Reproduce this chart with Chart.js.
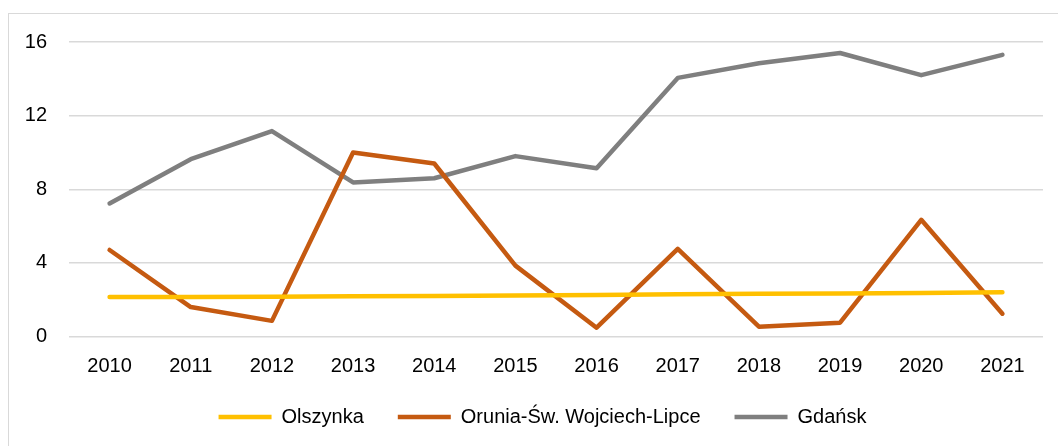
<!DOCTYPE html>
<html>
<head>
<meta charset="utf-8">
<script src="https://cdn.jsdelivr.net/npm/chart.js@4"></script>
<style>
    html, body { margin: 0; padding: 0; background: #fff; overflow: hidden; }
    #ramka {
        position: absolute; left: 8px; top: 13px;
        width: 1060px; height: 440px;
        border: 1px solid #d9d9d9; box-sizing: border-box;
    }
    #wrap { position: absolute; left: 0; top: 0; width: 1050px; height: 432px; }
</style>
</head>
<body>
<div id="ramka"><div id="wrap"><canvas id="myChart"></canvas></div></div>
<script>
// Dane z wykresu
const lata = ['2010', '2011', '2012', '2013', '2014', '2015', '2016', '2017', '2018', '2019', '2020', '2021'];
const olszynka = [2.15, 2.15, 2.16, 2.18, 2.2, 2.23, 2.26, 2.3, 2.32, 2.34, 2.37, 2.4];
const orunia = [4.7, 1.6, 0.85, 10.0, 9.4, 3.85, 0.48, 4.76, 0.53, 0.75, 6.34, 1.24];
const gdansk = [7.23, 9.63, 11.16, 8.37, 8.6, 9.8, 9.14, 14.05, 14.85, 15.4, 14.2, 15.3];
const osY = [0, 4, 8, 12, 16];

Chart.defaults.font.family = "'Liberation Sans', Arial, sans-serif";
Chart.defaults.font.size = 20;
Chart.defaults.color = '#000';

let myChart;

// przesunięcie legendy (środek i wysokość jak w oryginale)
const przesunLegende = {
    id: 'przesunLegende',
    afterLayout(chart) {
        const lg = chart.legend;
        lg.left += 9; lg.right += 9;
        lg.top -= 5; lg.bottom -= 5;
    }
};

function seria(label, data, kolor) {
    return {
        label: label,
        data: data,
        borderColor: kolor,
        backgroundColor: kolor,
        borderWidth: 4.5,
        borderCapStyle: 'round',
        borderJoinStyle: 'round',
        pointRadius: 0,
        tension: 0,
        fill: false
    };
}

function crearGrafico() {
    const ctx = document.getElementById('myChart').getContext('2d');
    myChart = new Chart(ctx, {
        type: 'line',
        data: {
            labels: lata,
            datasets: [
                seria('Olszynka', olszynka, '#FFC000'),
                seria('Orunia-Św. Wojciech-Lipce', orunia, '#C55A11'),
                seria('Gdańsk', gdansk, '#7F7F7F')
            ]
        },
        options: {
            responsive: true,
            maintainAspectRatio: false,
            animation: false,
            layout: { padding: { top: 0, right: 16, left: 15, bottom: 4 } },
            plugins: {
                tooltip: { enabled: false },
                legend: {
                    position: 'bottom',
                    labels: {
                        usePointStyle: true,
                        pointStyle: 'line',
                        pointStyleWidth: 53,
                        padding: 34,
                        color: '#000'
                    }
                }
            },
            scales: {
                x: {
                    offset: true,
                    grid: { display: false },
                    border: { display: false },
                    ticks: { padding: 9.5, maxRotation: 0 },
                    afterFit: (scale) => { scale.height = 41.5; }
                },
                y: {
                    min: 0,
                    max: 16,
                    afterBuildTicks: (axis) => { axis.ticks = osY.map(v => ({ value: v })); },
                    grid: { color: '#d9d9d9', lineWidth: 1.5, drawTicks: false },
                    border: { display: false },
                    ticks: { padding: 22 },
                    afterFit: (scale) => {
                        scale.width = 45;
                        scale.paddingTop = 28;
                    }
                }
            }
        },
        plugins: [przesunLegende]
    });
}

crearGrafico();
</script>
</body>
</html>
